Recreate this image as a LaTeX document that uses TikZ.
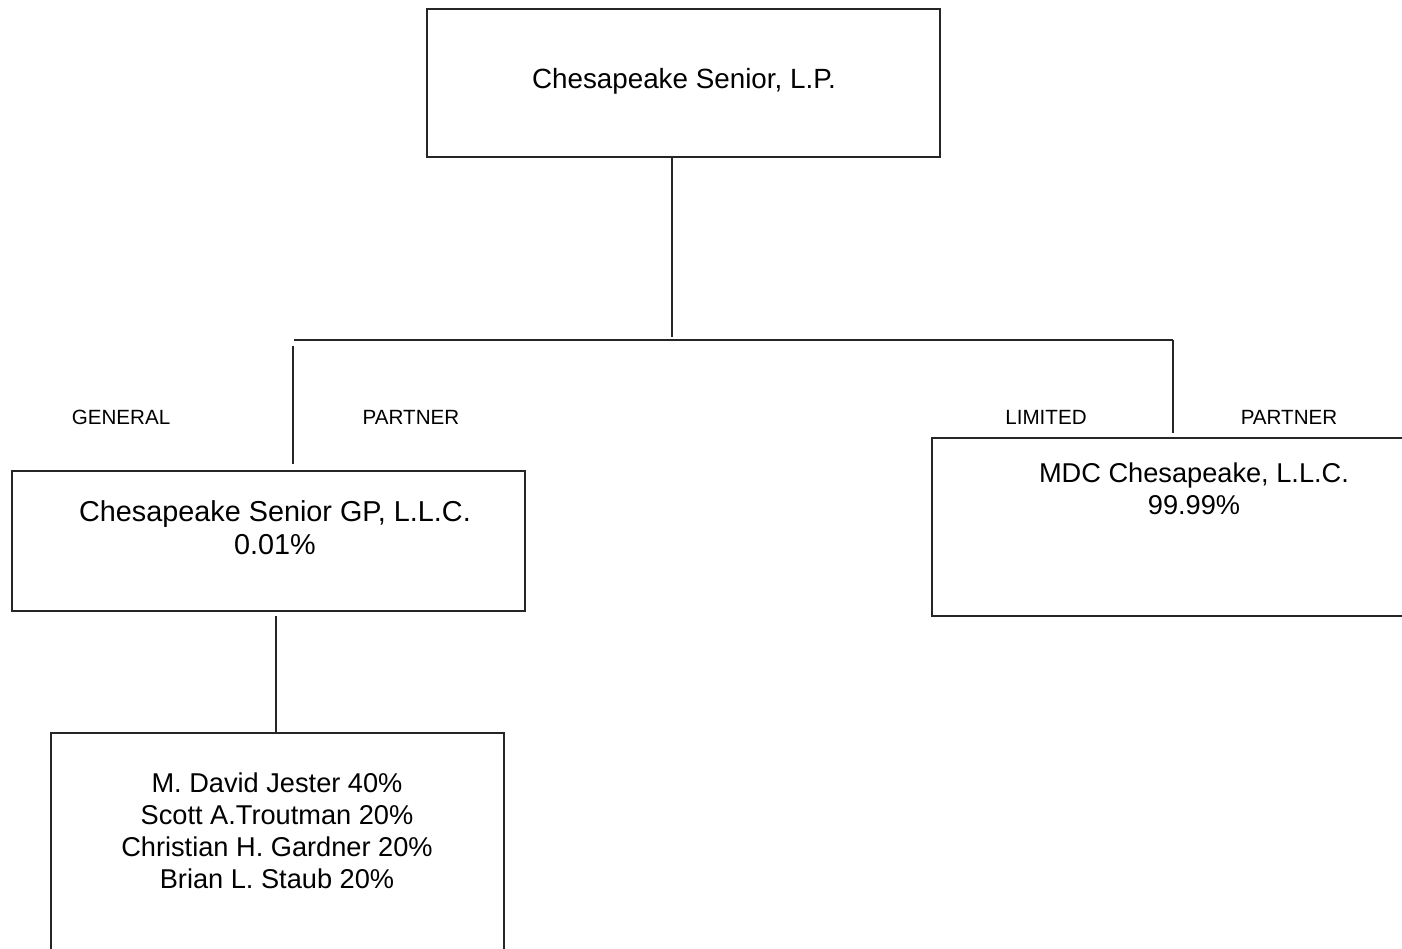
\documentclass[tikz,border=0pt]{standalone}
\usepackage{fontspec}
\setmainfont{Liberation Sans}
\usetikzlibrary{positioning}

\tikzset{
	entbox/.style={draw=black!85, line width=0.8pt, inner sep=0pt},
	entname/.style={inner sep=0pt, align=center, font=\fontsize{13.6}{16}\selectfont},
	rolelabel/.style={inner sep=0pt, font=\fontsize{10.3}{12}\selectfont},
	tie/.style={draw=black!85, line width=0.8pt}
}

\begin{document}
\begin{tikzpicture}[x=0.5pt, y=-0.5pt]
		%%%%% START %%%%%
		\useasboundingbox (0,0) rectangle (1402,948);
		
		% boxes
		\node[entbox, minimum width=256.5pt, minimum height=74pt] (topbox) at (683.5,83) {};
		\node[entbox, minimum width=256.5pt, minimum height=70pt] (gpbox) at (268.5,541) {};
		\node[entbox, minimum width=263pt, minimum height=89pt] (mdcbox) at (1195,527) {};
		\node[entbox, minimum width=226.5pt, minimum height=140pt] (ownbox) at (277.5,873) {};
		
		% names inside the boxes
		\node[entname, anchor=north, font=\fontsize{13.9}{16}\selectfont] (toptext) at (684,68) {Chesapeake Senior, L.P.};
		\node[entname, anchor=north, font=\fontsize{14.4}{16.5}\selectfont] (gptext) at (275,500) {Chesapeake Senior GP, L.L.C.\\0.01\%};
		\node[entname, anchor=north] (mdctext) at (1194,462) {MDC Chesapeake, L.L.C.\\99.99\%};
		\node[entname, anchor=north] (owntext) at (277,772) {M. David Jester 40\%\\Scott A.Troutman 20\%\\Christian H. Gardner 20\%\\Brian L. Staub 20\%};
		
		% partner labels
		\node[rolelabel] (genlabel) at (121,417) {GENERAL};
		\node[rolelabel] (gplabel) at (411,417) {PARTNER};
		\node[rolelabel] (limlabel) at (1046,417) {LIMITED};
		\node[rolelabel] (lplabel) at (1289,417) {PARTNER};
		
		% lines
		\coordinate (topjoin) at (672,337);
		\coordinate (busL) at (294,340);
		\coordinate (busR) at (1173,340);
		\coordinate (gpleg) at (293,346);
		\coordinate (ownjoin) at (276,616);
		
		\draw[tie] (topbox.south -| topjoin) -- (topjoin);
		\draw[tie] (busL) -- (busR);
		\draw[tie] (gpleg) -- ([yshift=3pt]gpleg |- gpbox.north);
		\draw[tie] (busR) -- ([yshift=2pt]busR |- mdcbox.north);
		\draw[tie] (ownjoin) -- (ownjoin |- ownbox.north);
		
		%%%%% END %%%%%
\end{tikzpicture}
\end{document}
